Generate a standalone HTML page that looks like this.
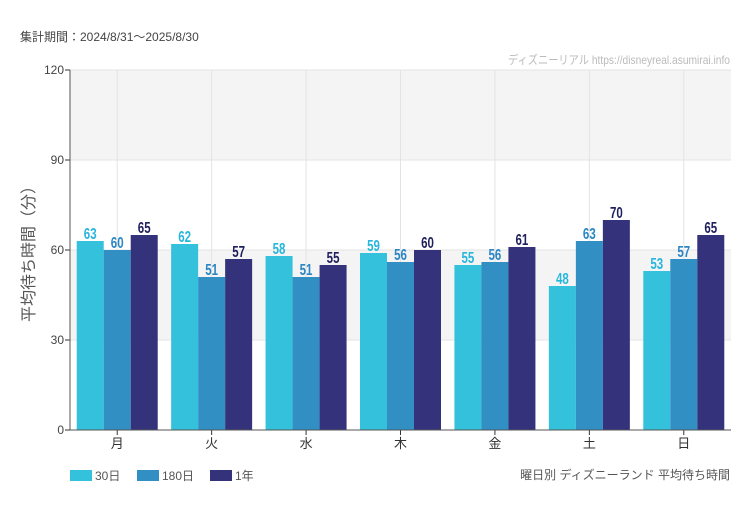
<!DOCTYPE html>
<html><head><meta charset="utf-8"><style>
body{margin:0;background:#fff;font-family:"Liberation Sans","Noto Sans CJK JP",sans-serif;}
svg text{font-family:"Liberation Sans","Noto Sans CJK JP",sans-serif;}
.v{font-family:"Liberation Sans Narrow","Liberation Sans",sans-serif;font-weight:bold;font-size:16px;}
</style></head><body>
<svg id="c" width="750" height="500">
<text x="20" y="41" font-size="12" fill="#444">集計期間：2024/8/31〜2025/8/30</text>
<text x="730" y="64" font-size="12" fill="#bbb" text-anchor="end" textLength="222" lengthAdjust="spacingAndGlyphs">ディズニーリアル https://disneyreal.asumirai.info</text>
<g id="plot"></g>
<text transform="translate(34,250) rotate(-90)" font-size="16" fill="#555" text-anchor="middle">平均待ち時間（分）</text>
<g>
<rect x="70" y="470" width="22" height="11" fill="#33c1dc"/>
<text x="95" y="480" font-size="12" fill="#555">30日</text>
<rect x="137" y="470" width="22" height="11" fill="#318fc4"/>
<text x="162" y="480" font-size="12" fill="#555">180日</text>
<rect x="210" y="470" width="22" height="11" fill="#33327a"/>
<text x="235" y="480" font-size="12" fill="#555">1年</text>
</g>
<text x="730" y="479" font-size="12" fill="#555" text-anchor="end">曜日別 ディズニーランド 平均待ち時間</text>
</svg>
<script>
const categories=["月","火","水","木","金","土","日"];
const s30=[63,62,58,59,55,48,53];
const s180=[60,51,51,56,56,63,57];
const s1y=[65,57,55,60,61,70,65];
const yTicks=[0,30,60,90,120];
const NS="http://www.w3.org/2000/svg";
const X0=70,X1=731,Y0=430,Y1=70,YMAX=120;
const y=v=>Y0-(v/YMAX)*(Y0-Y1);
const bw=(X1-X0)/categories.length;
const g=document.getElementById('plot');
function el(t,a){const e=document.createElementNS(NS,t);for(const k in a)e.setAttribute(k,a[k]);g.appendChild(e);return e;}
for(let i=0;i<yTicks.length-1;i++){
 if(i%2===1){const r=el('rect',{x:X0,y:y(yTicks[i+1]),width:X1-X0,height:y(yTicks[i])-y(yTicks[i+1]),fill:'#f4f4f4'});
 
 }
}
yTicks.forEach(t=>{
 const l=el('line',{x1:X0,x2:X1,y1:y(t),y2:y(t),stroke:'#e3e3e3'});
 
 
 const k=el('line',{x1:X0-5,x2:X0,y1:y(t),y2:y(t),stroke:'#333'});
 
 
 const tx=el('text',{x:X0-6,y:y(t)+4,'font-size':12,fill:'#444','text-anchor':'end'});
 tx.textContent=t;
 
 
});
categories.forEach((c,i)=>{
 const cx=X0+bw*(i+0.5);
 const l=el('line',{x1:cx,x2:cx,y1:Y1,y2:Y0,stroke:'#e3e3e3'});
 
 
});
const series=[[s30,'#33c1dc','#27b6dc'],[s180,'#318fc4','#2a86c4'],[s1y,'#33327a','#1f1f5e']];
const barW=27;
categories.forEach((c,i)=>{
 const cx=X0+bw*(i+0.5);
 series.forEach((s,j)=>{
  const v=s[0][i];const bx=cx-1.5*barW+j*barW;
  const r=el('rect',{x:bx,y:y(v),width:barW,height:Y0-y(v),fill:s[1]});
  
  
  const t=el('text',{x:bx+barW/2,y:y(v)-2,'text-anchor':'middle',fill:s[2],class:'v',transform:`translate(${bx+barW/2},0) scale(0.72,1) translate(${-(bx+barW/2)},0)`});
  t.textContent=v;
  
  
 });
 const k=el('line',{x1:cx,x2:cx,y1:Y0,y2:Y0+5,stroke:'#333'});
 
 
 const t=el('text',{x:cx,y:Y0+18,'font-size':13,fill:'#333','text-anchor':'middle'});
 t.textContent=c;
 
 
});
const ax=el('line',{x1:X0,x2:X0,y1:Y1,y2:Y0,stroke:'#555'});


const bx=el('line',{x1:X0,x2:X1,y1:Y0,y2:Y0,stroke:'#555'});


</script>
</body></html>
